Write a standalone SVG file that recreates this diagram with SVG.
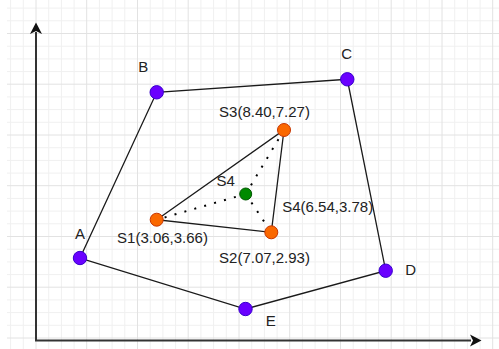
<svg xmlns="http://www.w3.org/2000/svg" width="499" height="349" viewBox="0 0 499 349">
<style>
.minor{stroke:#f0f0f0;stroke-width:1;fill:none}
.major{stroke:#e2e2e2;stroke-width:1;fill:none}
.edge{stroke:#1a1a1a;stroke-width:1.3;fill:none}
.dot{stroke:#000;stroke-width:2;fill:none;stroke-dasharray:2 8.3}
.axis{stroke:#333;stroke-width:2;fill:none}
.v{fill:#6a00ff;stroke:#3700cc;stroke-width:1}
.s{fill:#fa6800;stroke:#c73500;stroke-width:1}
.g{fill:#008a00;stroke:#005700;stroke-width:1}
text{font-family:"Liberation Sans",Arial,sans-serif;font-size:15px;fill:#222;text-anchor:middle}
</style>
<rect x="0" y="0" width="499" height="349" fill="#fff"/>
<g id="grid">
<path class="minor" d="M10.6 0V349M23.3 0V349M48.7 0V349M61.4 0V349M74.1 0V349M99.4 0V349M112.1 0V349M124.8 0V349M150.2 0V349M162.9 0V349M175.6 0V349M200.9 0V349M213.6 0V349M226.3 0V349M251.7 0V349M264.4 0V349M277.1 0V349M302.4 0V349M315.1 0V349M327.8 0V349M353.2 0V349M365.9 0V349M378.6 0V349M403.9 0V349M416.6 0V349M429.3 0V349M454.7 0V349M467.4 0V349M480.1 0V349"/>
<path class="minor" d="M7 8.1H499M7 20.8H499M7 46.2H499M7 58.9H499M7 71.6H499M7 96.9H499M7 109.6H499M7 122.3H499M7 147.7H499M7 160.4H499M7 173.1H499M7 198.4H499M7 211.1H499M7 223.8H499M7 249.2H499M7 261.9H499M7 274.6H499M7 299.9H499M7 312.6H499M7 325.3H499"/>
<path class="major" d="M36 0V349M86.7 0V349M137.5 0V349M188.2 0V349M239 0V349M289.7 0V349M340.5 0V349M391.2 0V349M442 0V349M492.7 0V349"/>
<path class="major" d="M7 33.5H499M7 84.2H499M7 135H499M7 185.7H499M7 236.5H499M7 287.2H499M7 338H499"/>
</g>
<g id="axes">
<path class="axis" d="M36 32V340.5H471"/>
<path d="M36 22.5L30 34L36 31L42 34Z" fill="#111"/>
<path d="M481.5 340.5L470 334.5L473 340.5L470 346.5Z" fill="#111"/>
</g>
<g id="connectors">
<path class="edge" d="M80 258L156.7 92.3L347.3 79.3L385.7 270.7L245.5 309Z"/>
<path class="edge" d="M156.7 219.7L284 130L271.3 232.3Z"/>
<path class="dot" d="M245.7 194L156.7 219.7"/>
<path class="dot" d="M245.7 194L284 130"/>
<path class="dot" d="M245.7 194L271.3 232.3"/>
</g>
<g id="A"><circle class="v" cx="80" cy="258" r="6.7"/><text x="80" y="238.7">A</text></g>
<g id="B"><circle class="v" cx="156.7" cy="92.3" r="6.7"/><text x="143.3" y="72">B</text></g>
<g id="C"><circle class="v" cx="347.3" cy="79.3" r="6.7"/><text x="346.7" y="58.7">C</text></g>
<g id="D"><circle class="v" cx="385.7" cy="270.7" r="6.7"/><text x="410.7" y="275.4">D</text></g>
<g id="E"><circle class="v" cx="245.5" cy="309" r="6.7"/><text x="270.7" y="326">E</text></g>
<g id="S1"><circle class="s" cx="156.7" cy="219.7" r="6.5"/><text x="162.5" y="243">S1(3.06,3.66)</text></g>
<g id="S2"><circle class="s" cx="271.3" cy="232.3" r="6.5"/><text x="264.5" y="263.3">S2(7.07,2.93)</text></g>
<g id="S3"><circle class="s" cx="284" cy="130" r="6.5"/><text x="264.5" y="116.5">S3(8.40,7.27)</text></g>
<g id="S4"><circle class="g" cx="245.7" cy="194" r="6"/><text x="225.8" y="186">S4</text><text x="327.7" y="212.3">S4(6.54,3.78)</text></g>
</svg>
